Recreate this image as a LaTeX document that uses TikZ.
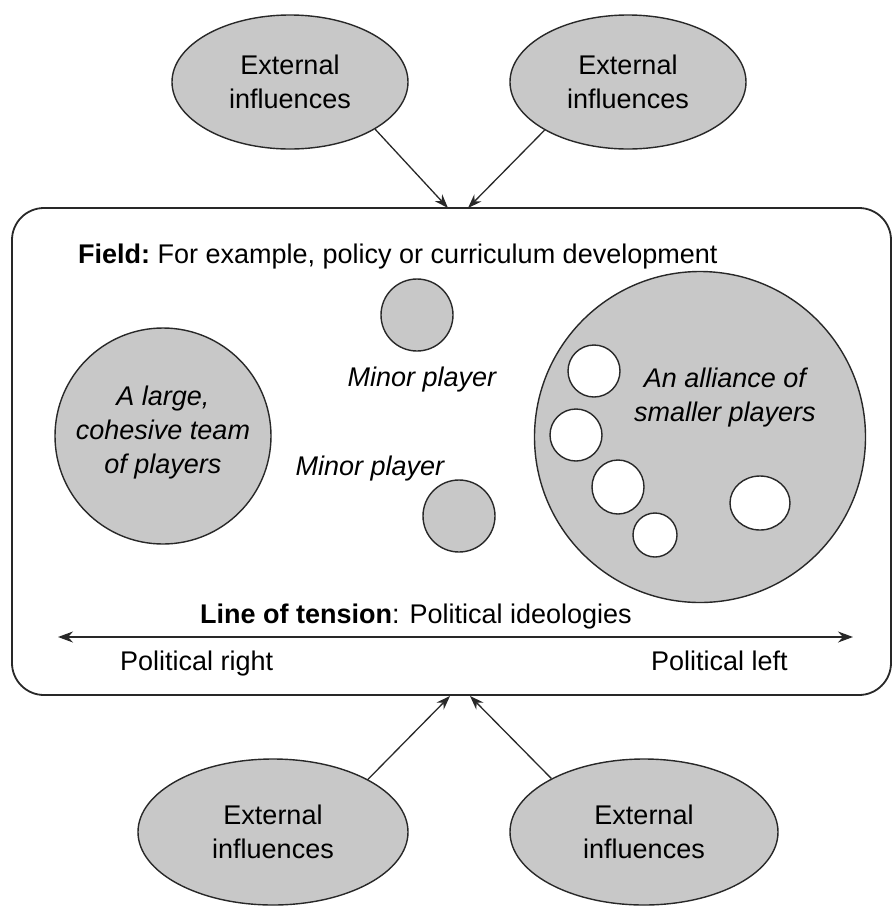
\documentclass[tikz,border=0pt]{standalone}
\usepackage{fontspec}
\setmainfont{Liberation Sans}
\usetikzlibrary{shapes.geometric,arrows.meta}
\definecolor{fillgray}{RGB}{200,200,200}
\definecolor{edgegray}{RGB}{40,40,40}
\begin{document}
\begin{tikzpicture}[x=1pt,y=-1pt,
  every node/.style={font=\fontsize{27}{34}\selectfont},
  extnode/.style={ellipse,draw=edgegray,line width=1.4pt,fill=fillgray,inner sep=0pt,align=center},
  player/.style={circle,draw=edgegray,line width=1.4pt,fill=fillgray,inner sep=0pt},
  member/.style={ellipse,draw=edgegray,line width=1.4pt,fill=white,inner sep=0pt},
  conn/.style={draw=edgegray,line width=1.3pt,-{Stealth[length=14pt,width=10pt]}},
  ptext/.style={font=\fontsize{27}{34}\selectfont\itshape,align=center,inner sep=0pt}
]
\useasboundingbox (0,0) rectangle (893,906);
% field frame
\draw[draw=edgegray,line width=1.8pt,rounded corners=32pt] (12,208) rectangle (891,695);
\coordinate (tipTL) at (448,208);
\coordinate (tipTR) at (468,208);
\coordinate (tipBL) at (450,696);
\coordinate (tipBR) at (470,696);
% external influences
\node[extnode,minimum width=236pt,minimum height=134pt] (ext1) at (290,82) {External\\influences};
\node[extnode,minimum width=236pt,minimum height=134pt] (ext2) at (628,82) {External\\influences};
\node[extnode,minimum width=270pt,minimum height=146pt] (ext3) at (273,832) {External\\influences};
\node[extnode,minimum width=268pt,minimum height=146pt] (ext4) at (644,832) {External\\influences};
\draw[conn] (ext1.-29) -- (tipTL);
\draw[conn] (ext2.-150) -- (tipTR);
\draw[conn] (ext3.29) -- (tipBL);
\draw[conn] (ext4.150) -- (tipBR);
% field title
\node[anchor=base west,inner sep=0pt] (title) at (78,263) {\bfseries Field:\mdseries\ For example, policy or curriculum development};
% large team
\node[player,minimum size=216pt] (team) at (163,436) {};
\node[ptext] (teamtext) at (163,433) {A large,\\cohesive team\\of players};
% minor players
\node[player,minimum size=72pt] (minor1) at (417,315) {};
\node[ptext,anchor=base] (minor1text) at (422,386) {Minor player};
\node[player,minimum size=72pt] (minor2) at (459,516) {};
\node[ptext,anchor=base] (minor2text) at (370,475) {Minor player};
% alliance
\node[player,minimum size=331pt] (alliance) at (700,437) {};
\node[ptext] (alliancetext) at (725,398) {An alliance of\\smaller players};
\node[member,minimum width=52pt,minimum height=52pt] (m1) at (594,371) {};
\node[member,minimum width=52pt,minimum height=52pt] (m2) at (576,435) {};
\node[member,minimum width=52pt,minimum height=54pt] (m3) at (618,487) {};
\node[member,minimum width=44pt,minimum height=44pt] (m4) at (655,535) {};
\node[member,minimum width=60pt,minimum height=54pt] (m5) at (760,503) {};
% line of tension
\node[anchor=base,inner sep=0pt] (tension) at (416,623) {\bfseries Line of tension\mdseries: Political ideologies};
\coordinate (lineL) at (58,637);
\coordinate (lineR) at (853,637);
\draw[draw=edgegray,line width=1.4pt,{Stealth[length=15pt,width=11pt]}-{Stealth[length=15pt,width=11pt]}] (lineL) -- (lineR);
\node[anchor=base west,inner sep=0pt] (pright) at (120,670) {Political right};
\node[anchor=base west,inner sep=0pt] (pleft) at (651,670) {Political left};
\end{tikzpicture}
\end{document}
